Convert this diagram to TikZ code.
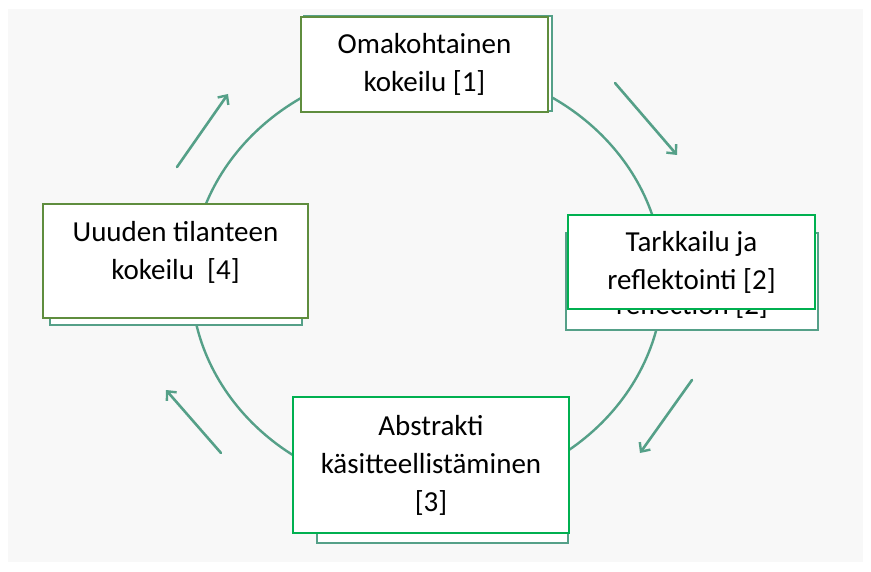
\documentclass[tikz,border=0pt]{standalone}
\usepackage{fontspec}
\setmainfont{Carlito}
\usetikzlibrary{arrows.meta}

\definecolor{cycleteal}{HTML}{55A088}
\definecolor{boxolive}{HTML}{5F8D3E}
\definecolor{boxgreen}{HTML}{00B050}
\definecolor{pagegray}{HTML}{F8F8F8}

\begin{document}
\begin{tikzpicture}[x=1pt,y=-1pt,
    stagebox/.style={draw, fill=white, line width=2pt, inner sep=0pt,
      align=center, font=\fontsize{29}{38}\selectfont},
    backbox/.style={stagebox, draw=cycleteal},
    stagetext/.style={inner sep=0pt, align=center, font=\fontsize{29}{38}\selectfont},
    cyclearrow/.style={draw=cycleteal, line width=2.6pt, line cap=round,
      -{Straight Barb[length=7pt,width=13pt,line width=2.4pt]}}]

    % Page
    \useasboundingbox (0,0) rectangle (871,572);
    \fill[pagegray] (8,9) rectangle (863,562);

    % Cycle
    \draw[cycleteal, line width=2.4pt] (427,279) ellipse [x radius=236, y radius=214];

    % Arrow ends
    \coordinate (a1s) at (615,83);  \coordinate (a1e) at (677,155);
    \coordinate (a2s) at (692,380); \coordinate (a2e) at (640,453);
    \coordinate (a3s) at (221,453); \coordinate (a3e) at (166,390);
    \coordinate (a4s) at (177,167); \coordinate (a4e) at (228,94);

    \draw[cyclearrow] (a1s) -- (a1e);
    \draw[cyclearrow] (a2s) -- (a2e);
    \draw[cyclearrow] (a3s) -- (a3e);
    \draw[cyclearrow] (a4s) -- (a4e);

    % Back boxes
    \node[backbox, minimum width=248, minimum height=95] (back1) at (428,63.5) {};
    \node[backbox, minimum width=252, minimum height=97] (back2) at (692,281.5) {};
    \begin{scope}
      \clip (566,310.5) rectangle (818,329);
      \node[stagetext, anchor=base, text height=5pt, text depth=3pt] (back2txt) at (692,314.5) {reflection [2]};
    \end{scope}
    \node[backbox, minimum width=251, minimum height=133] (back3) at (442.5,476.5) {};
    \node[backbox, minimum width=252, minimum height=110] (back4) at (176,270) {};

    % Front boxes
    \node[stagebox, draw=boxolive, minimum width=247, minimum height=95] (stage1) at (424.5,64.5)
      {Omakohtainen\\kokeilu [1]};
    \node[stagebox, draw=boxgreen, minimum width=247, minimum height=94] (stage2) at (691.5,262)
      {Tarkkailu ja\\reflektointi [2]};
    \node[stagebox, draw=boxgreen, minimum width=276, minimum height=136] (stage3) at (431,465)
      {Abstrakti\\käsitteellistäminen\\{[3]}};
    \node[stagebox, draw=boxolive, minimum width=265, minimum height=114] (stage4) at (175.5,261) {};
    \node[stagetext] (stage4txt) at (175.5,252) {Uuuden tilanteen\\kokeilu\ \ [4]};
\end{tikzpicture}
\end{document}
